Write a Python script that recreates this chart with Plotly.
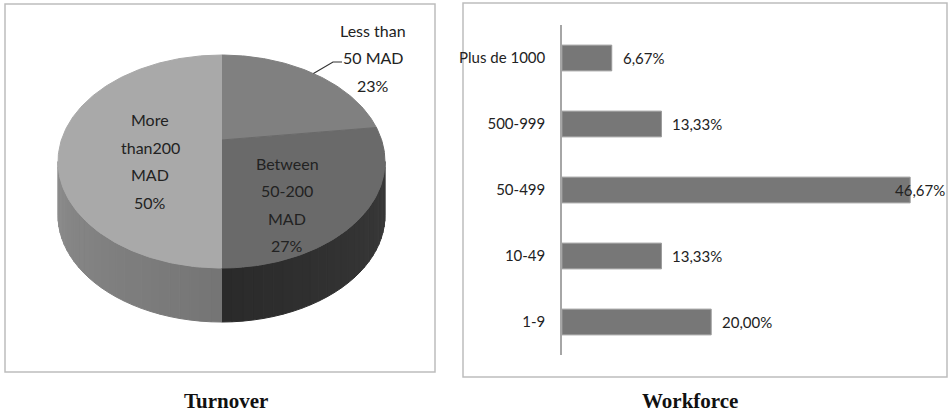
import math
import plotly.graph_objects as go

# ---- data -------------------------------------------------------------
turnover_labels = ["Less than<br>50 MAD", "Between<br>50-200<br>MAD", "More<br>than200<br>MAD"]
turnover_share = [23, 27, 50]

workforce_cats = ["1-9", "10-49", "50-499", "500-999", "Plus de 1000"]
workforce_pct = [20.00, 13.33, 46.67, 13.33, 6.67]

# ---- styling ----------------------------------------------------------
W, H = 949, 415
FONT = "Lato"
TXT = "#222222"
top_colors = ["#808080", "#6a6a6a", "#a9a9a9"]
side_colors = [("#5a5a5a", "#4a4a4a"), ("#3a3a3a", "#2a2a2a"), ("#757575", "#8c8c8c")]

# 3-D pie camera (pixel space)
CX, CY, K = 221.5, 140.0, 610.0
SIN_A, COS_A = 0.638, 0.770
DIST = 3.81
WALL = 54.0   # wall height in pixels


def proj(theta_deg, r=1.0):
    t = math.radians(theta_deg)
    X, Y = r * math.sin(t), r * math.cos(t)
    depth = DIST + Y * COS_A
    return CX + K * X / depth, CY - K * (Y * SIN_A) / depth


def arc(a0, a1, dy=0.0, n=None):
    n = n or max(4, int(abs(a1 - a0) / 1.0))
    out = []
    for i in range(n + 1):
        px, py = proj(a0 + (a1 - a0) * i / n)
        out.append((px, py + dy))
    return out


def hex_mix(c0, c1, f):
    a = [int(c0[i:i + 2], 16) for i in (1, 3, 5)]
    b = [int(c1[i:i + 2], 16) for i in (1, 3, 5)]
    return "#%02x%02x%02x" % tuple(round(a[j] + (b[j] - a[j]) * f) for j in range(3))


fig = go.Figure()

# slice angles (clockwise from 12 o'clock)
total = sum(turnover_share)
bounds = []
acc = 0.0
for v in turnover_share:
    a0 = acc / total * 360
    acc += v
    bounds.append((a0, acc / total * 360))

# visible part of the rim: between the right-most and left-most points
edge = math.degrees(math.acos(-COS_A / DIST))
front = (edge, 360 - edge)


def poly(pts, color):
    xs = [p[0] for p in pts] + [pts[0][0]]
    ys = [p[1] for p in pts] + [pts[0][1]]
    fig.add_trace(go.Scatter(x=xs, y=ys, mode="lines", fill="toself",
                             fillcolor=color, line=dict(color=color, width=1),
                             hoverinfo="skip", showlegend=False,
                             xaxis="x", yaxis="y"))


# side walls, drawn in thin strips for shading
for i, (a0, a1) in enumerate(bounds):
    s0, s1 = max(a0, front[0]), min(a1, front[1])
    if s1 <= s0:
        continue
    nstrip = max(1, int((s1 - s0) / 3))
    for j in range(nstrip):
        t0 = s0 + (s1 - s0) * j / nstrip
        t1 = s0 + (s1 - s0) * (j + 1) / nstrip
        f = (j + 0.5) / nstrip
        col = hex_mix(side_colors[i][0], side_colors[i][1], f)
        pts = arc(t0, t1, 0.0, 3) + arc(t1, t0, WALL, 3)
        poly(pts, col)

# top faces
for i, (a0, a1) in enumerate(bounds):
    pts = [proj(0, 0)] + arc(a0, a1)
    poly(pts, top_colors[i])

# data labels (block centres in pixels) with 27.5 px line pitch
label_pos = [(373, 57.5), (287, 204.5), (150, 161)]
LINE = 27.5
for name, v, (lx, ly) in zip(turnover_labels, turnover_share, label_pos):
    lines = name.split("<br>") + ["%d%%" % round(v / total * 100)]
    top = ly - LINE * (len(lines) - 1) / 2
    for j, ln in enumerate(lines):
        fig.add_annotation(x=lx, y=top + j * LINE, xref="x", yref="y", text=ln,
                           showarrow=False, xanchor="center", yanchor="middle",
                           font=dict(family=FONT, size=16, color=TXT))

# leader line for the first slice
mid0 = (bounds[0][0] + bounds[0][1]) / 2
sx, sy = proj(mid0)
ex, ey = label_pos[0][0] - 31, label_pos[0][1] + 4.5
fig.add_trace(go.Scatter(x=[sx, ex - 9, ex], y=[sy, ey, ey], mode="lines",
                         line=dict(color="#333333", width=1.2), hoverinfo="skip",
                         showlegend=False, xaxis="x", yaxis="y"))

# ---- bar chart ---------------------------------------------------------
fig.add_trace(go.Bar(y=workforce_cats, x=workforce_pct, orientation="h",
                     marker=dict(color="#777777", line=dict(color="#9a9a9a", width=1)),
                     hoverinfo="skip", showlegend=False, xaxis="x2", yaxis="y2"))

XMAX = 50
for c, v in zip(workforce_cats, workforce_pct):
    txt = ("%.2f%%" % v).replace(".", ",")
    if v > 0.9 * XMAX:
        fig.add_annotation(x=0.998, xref="paper", y=c, yref="y2", text=txt,
                           showarrow=False, xanchor="right", yanchor="middle",
                           font=dict(family=FONT, size=15, color=TXT))
    else:
        fig.add_annotation(x=v, xref="x2", y=c, yref="y2", text=txt, xshift=9,
                           showarrow=False, xanchor="left", yanchor="middle",
                           font=dict(family=FONT, size=15, color=TXT))

# panel frames
def frame(x0, y0, x1, y1):
    fig.add_shape(type="rect", xref="paper", yref="paper",
                  x0=x0 / W, x1=x1 / W, y0=1 - y1 / H, y1=1 - y0 / H,
                  line=dict(color="#bdbdbd", width=1.5), layer="below")

frame(5, 4, 435, 372)
frame(463, 3, 947, 377)

# captions
for text, xc in (("Turnover", 226), ("Workforce", 690)):
    fig.add_annotation(x=xc / W, y=1 - 401 / H, xref="paper", yref="paper",
                       text="<b>%s</b>" % text, showarrow=False,
                       xanchor="center", yanchor="middle",
                       font=dict(family="Liberation Serif", size=21, color="#111111"))

fig.update_layout(
    width=W, height=H, margin=dict(l=0, r=0, t=0, b=0),
    paper_bgcolor="white", plot_bgcolor="rgba(0,0,0,0)",
    xaxis=dict(domain=[0, 1], range=[0, W], visible=False, fixedrange=True),
    yaxis=dict(domain=[0, 1], range=[H, 0], visible=False, fixedrange=True),
    xaxis2=dict(domain=[562 / W, 935 / W], range=[0, XMAX], visible=False,
                anchor="y2"),
    yaxis2=dict(domain=[1 - 355 / H, 1 - 25 / H], range=[-0.5, 4.5],
                anchor="x2", type="category", showline=True,
                linecolor="#a6a6a6", linewidth=1.5, ticks="",
                ticklabelstandoff=12, showgrid=False,
                tickfont=dict(family=FONT, size=15, color=TXT)),
    bargap=0.61,
)

fig.write_html("out.html")
